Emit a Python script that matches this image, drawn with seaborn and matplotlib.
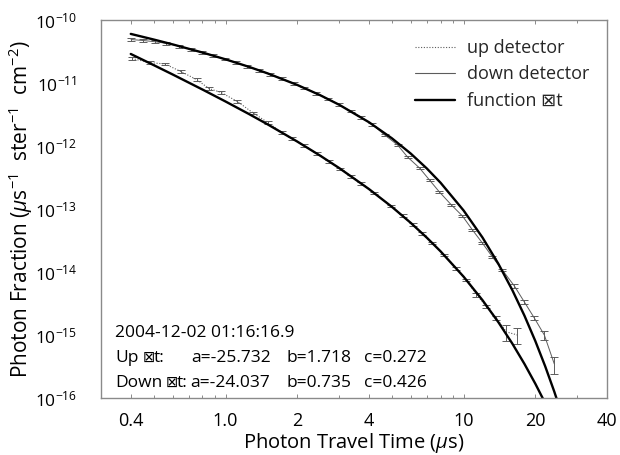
import numpy as np
import matplotlib
matplotlib.use("Agg")
import matplotlib.pyplot as plt
import seaborn as sns
from matplotlib.lines import Line2D
from matplotlib.ticker import FixedLocator, FixedFormatter, NullLocator, NullFormatter

# ---------------- data ----------------
down_t = [0.401, 0.450, 0.505, 0.562, 0.639, 0.717, 0.796, 0.884, 0.991, 1.11,
          1.233, 1.382, 1.535, 1.72, 1.93, 2.14, 2.40, 2.69, 2.99, 3.35,
          3.72, 4.13, 4.656, 5.279, 5.814, 6.527, 7.190, 7.915, 8.891, 9.886,
          10.89, 11.99, 13.21, 14.54, 16.33, 17.99, 19.81, 21.82, 24.03]
down_val = [4.90e-11, 4.73e-11, 4.52e-11, 4.27e-11, 3.85e-11, 3.42e-11, 3.06e-11, 2.73e-11, 2.40e-11, 2.10e-11,
            1.845e-11, 1.591e-11, 1.381e-11, 1.174e-11, 9.87e-12, 8.35e-12, 6.88e-12, 5.59e-12, 4.55e-12, 3.59e-12,
            2.84e-12, 2.21e-12, 1.50e-12, 1.04e-12, 6.68e-13, 4.48e-13, 2.88e-13, 1.86e-13, 1.156e-13, 7.74e-14,
            4.65e-14, 2.88e-14, 1.73e-14, 1.076e-14, 6.00e-15, 3.34e-15, 1.86e-15, 1.0e-15, 3.47e-16]
down_relerr = [0.05] * 34 + [0.06, 0.065, 0.07, 0.17, 0.30]

up_t = [0.405, 0.482, 0.556, 0.652, 0.759, 0.853, 0.953, 1.118, 1.309, 1.505,
        1.72, 1.91, 2.14, 2.42, 2.72, 3.04, 3.38, 3.72, 4.21, 4.95,
        5.54, 6.10, 6.71, 7.38, 8.27, 9.329, 10.27, 11.32, 12.46, 13.73,
        15.12, 16.81]
up_val = [2.45e-11, 2.10e-11, 2.01e-11, 1.51e-11, 1.125e-11, 8.15e-12, 7.14e-12, 5.13e-12, 3.33e-12, 2.36e-12,
          1.648e-12, 1.307e-12, 1.009e-12, 7.56e-13, 5.73e-13, 4.31e-13, 3.29e-13, 2.54e-13, 1.80e-13, 1.115e-13,
          7.81e-14, 5.69e-14, 4.09e-14, 2.90e-14, 1.87e-14, 1.148e-14, 7.46e-15, 4.37e-15, 2.82e-15, 1.86e-15,
          1.12e-15, 1.0e-15]
up_relerr = [0.05] * 27 + [0.07, 0.05, 0.06, 0.28, 0.28]

fit_up_t = [0.4, 0.5, 0.6, 0.8, 1.0, 1.25, 1.5, 2, 2.5, 3, 4, 5, 6, 7, 8, 10, 12, 14, 16, 18, 20, 22]
fit_up_val = [2.891e-11, 1.918e-11, 1.365e-11, 7.880e-12, 5.088e-12, 3.241e-12, 2.213e-12, 1.178e-12,
              7.010e-13, 4.473e-13, 2.078e-13, 1.080e-13, 6.013e-14, 3.515e-14, 2.129e-14, 8.420e-15,
              3.573e-15, 1.591e-15, 7.341e-16, 3.482e-16, 1.686e-16, 8.310e-17]
fit_down_t = [0.4, 0.5, 0.6, 0.8, 1.0, 1.25, 1.5, 2, 2.5, 3, 4, 5, 6, 7, 8, 10, 12, 14, 16, 18, 20, 22, 24, 26]
fit_down_val = [6.016e-11, 4.893e-11, 4.101e-11, 3.048e-11, 2.376e-11, 1.813e-11, 1.425e-11, 9.322e-12,
                6.393e-12, 4.519e-12, 2.390e-12, 1.324e-12, 7.566e-13, 4.411e-13, 2.612e-13, 9.456e-14,
                3.528e-14, 1.344e-14, 5.195e-15, 2.032e-15, 8.024e-16, 3.191e-16, 1.277e-16, 5.134e-17]

x_ticks = [0.4, 1.0, 2, 4, 10, 20, 40]
x_tick_labels = ["0.4", "1.0", "2", "4", "10", "20", "40"]
x_minor_ticks = [0.5, 0.6, 0.7, 0.8, 0.9, 3, 5, 6, 7, 8, 9, 30]
y_ticks = [1e-16, 1e-15, 1e-14, 1e-13, 1e-12, 1e-11, 1e-10]
y_tick_labels = [r"$10^{-16}$", r"$10^{-15}$", r"$10^{-14}$", r"$10^{-13}$",
                 r"$10^{-12}$", r"$10^{-11}$", r"$10^{-10}$"]
legend_labels = ["up detector", "down detector", "function \u22a0t"]
timestamp = "2004-12-02 01:16:16.9"
up_params = ["-25.732", "1.718", "0.272"]
down_params = ["-24.037", "0.735", "0.426"]

# ---------------- style ----------------
sns.set_theme(style="white")
plt.rcParams["font.family"] = ["Open Sans", "DejaVu Sans"]
plt.rcParams["mathtext.fontset"] = "custom"
plt.rcParams["mathtext.rm"] = "Open Sans"
plt.rcParams["mathtext.it"] = "Open Sans:italic"
plt.rcParams["mathtext.bf"] = "Open Sans:bold"

W, H = 620, 455
fig = plt.figure(figsize=(W / 100, H / 100), dpi=100)
ax = fig.add_axes([101 / W, (H - 398) / H, 506 / W, 378 / H])
ax.set_xscale("log")
ax.set_yscale("log")

gray = "#5c5c5c"

# data lines
sns.lineplot(x=down_t, y=down_val, ax=ax, color=gray, lw=0.7, estimator=None, sort=False)
sns.lineplot(x=up_t, y=up_val, ax=ax, color=gray, lw=0.8, linestyle=(0, (1, 1.5)),
             estimator=None, sort=False)
# error bars
ax.errorbar(down_t, down_val, yerr=np.array(down_val) * np.array(down_relerr), fmt="none",
            ecolor=gray, elinewidth=0.7, capsize=3, capthick=0.7)
ax.errorbar(up_t, up_val, yerr=np.array(up_val) * np.array(up_relerr), fmt="none",
            ecolor=gray, elinewidth=0.7, capsize=3, capthick=0.7)
# fit functions
sns.lineplot(x=fit_up_t, y=fit_up_val, ax=ax, color="black", lw=1.7, estimator=None, sort=False)
sns.lineplot(x=fit_down_t, y=fit_down_val, ax=ax, color="black", lw=1.7, estimator=None, sort=False)

ax.set_xlim(0.3, 40)
ax.set_ylim(1e-16, 1e-10)

# ticks
ax.xaxis.set_major_locator(FixedLocator(x_ticks))
ax.xaxis.set_major_formatter(FixedFormatter(x_tick_labels))
ax.xaxis.set_minor_locator(FixedLocator(x_minor_ticks))
ax.xaxis.set_minor_formatter(NullFormatter())
ax.yaxis.set_major_locator(FixedLocator(y_ticks))
ax.yaxis.set_major_formatter(FixedFormatter(y_tick_labels))
ax.yaxis.set_minor_locator(NullLocator())

ax.tick_params(axis="x", which="both", direction="in", top=True, bottom=True,
               color="#777777", labelcolor="black", labelsize=13, pad=10, width=0.6)
ax.tick_params(axis="x", which="major", length=3)
ax.tick_params(axis="x", which="minor", length=2)
ax.tick_params(axis="y", which="both", direction="in", length=0, labelsize=12.5, pad=17,
               labelcolor="black")

for s in ax.spines.values():
    s.set_color("#8a8a8a")
    s.set_linewidth(1.0)

ax.set_xlabel(r"Photon Travel Time ($\mu$s)", fontsize=14.5, color="black")
ax.xaxis.set_label_coords(0.5, (398 - 431) / 378)
ax.set_ylabel(r"Photon Fraction ($\mu$s$^{-1}$  ster$^{-1}$  cm$^{-2}$)", fontsize=15, color="black")
ax.yaxis.set_label_coords((35 - 101) / 506, 0.5)

# legend
handles = [Line2D([], [], color=gray, lw=0.8, linestyle=(0, (1, 1.5))),
           Line2D([], [], color=gray, lw=0.8),
           Line2D([], [], color="black", lw=1.7)]
ax.legend(handles, legend_labels, loc="upper left", bbox_to_anchor=(415 / W, 1 - 39 / H),
          bbox_transform=fig.transFigure, frameon=False, fontsize=13, handlelength=2.2,
          handletextpad=0.7, labelspacing=0.47, borderpad=0, borderaxespad=0)

# annotation block
def ftxt(x, y, s, size=12.5):
    fig.text(x / W, 1 - y / H, s, ha="left", va="baseline", fontsize=size, color="black")

ftxt(115, 337, timestamp)
ftxt(115, 362, "Up")
ftxt(143, 362, "\u22a0", size=10.5)
ftxt(154, 362, "t:")
ftxt(191, 362, "a=" + up_params[0])
ftxt(286, 362, "b=" + up_params[1])
ftxt(364, 362, "c=" + up_params[2])
ftxt(115, 387, "Down")
ftxt(166, 387, "\u22a0", size=10.5)
ftxt(177, 387, "t:")
ftxt(190, 387, "a=" + down_params[0])
ftxt(286, 387, "b=" + down_params[1])
ftxt(364, 387, "c=" + down_params[2])

fig.savefig("out.png", dpi=100)
